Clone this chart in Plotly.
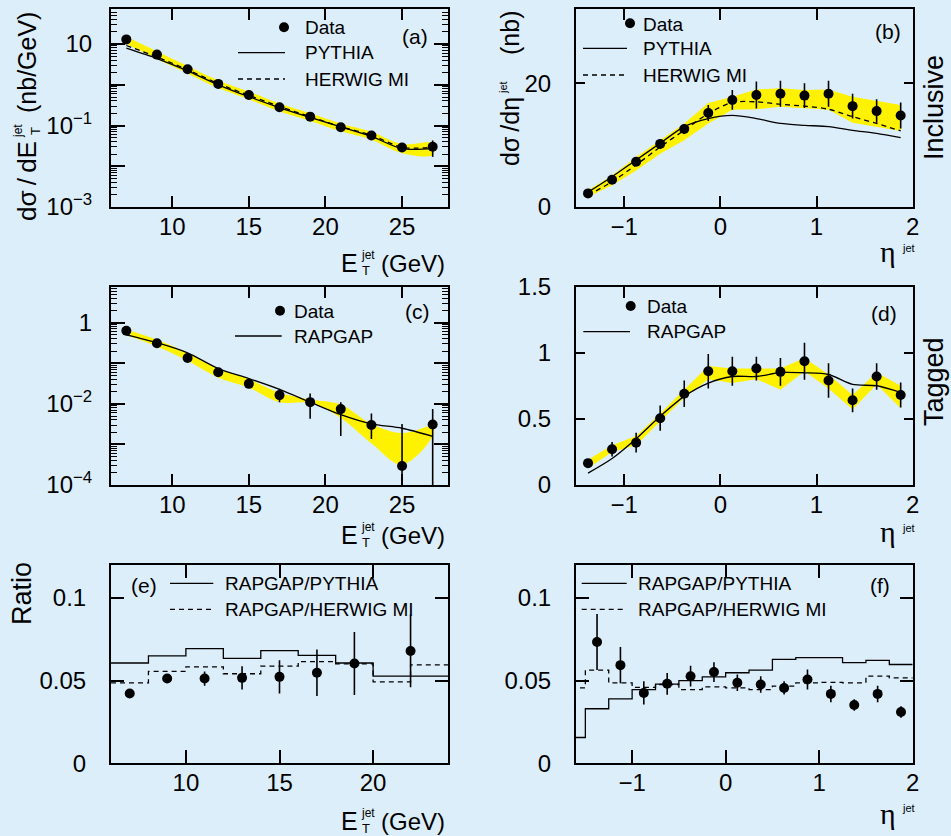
import plotly.graph_objects as go

W, H = 951, 836
FONT = "Liberation Sans"
SERIF = "Liberation Serif"
BG = "#DDEEFB"
YEL = "#FFF200"


def X(px):
    return px / W


def Y(py):
    return 1 - py / H


# ---------------- data ----------------
et_pts = [7, 9, 11, 13, 15, 17, 19, 21, 23, 25, 27]
# (a) inclusive dsigma/dET
a_data = [13.0, 5.5, 2.4, 1.05, 0.56, 0.28, 0.165, 0.091, 0.057, 0.029, 0.030]
a_err = [0.3, 0.15, 0.06, 0.03, 0.015, 0.01, 0.008, 0.005, 0.004, 0.003, 0.013]
a_pythia = [7.9, 4.4, 2.2, 1.0, 0.51, 0.276, 0.158, 0.093, 0.054, 0.027, 0.027]
a_herwig = [9.2, 4.8, 2.35, 1.07, 0.55, 0.295, 0.165, 0.094, 0.058, 0.029, 0.029]
a_band_hi = [15.0, 6.6, 2.9, 1.28, 0.68, 0.345, 0.20, 0.112, 0.070, 0.035, 0.036]
a_band_lo = [10.0, 4.3, 1.9, 0.83, 0.44, 0.22, 0.13, 0.072, 0.045, 0.021, 0.019]

eta_pts = [-1.375, -1.125, -0.875, -0.625, -0.375, -0.125, 0.125, 0.375,
           0.625, 0.875, 1.125, 1.375, 1.625, 1.875]
# (b) inclusive dsigma/deta
b_data = [2.2, 4.4, 7.3, 10.2, 12.6, 15.2, 17.3, 18.1, 18.3, 18.0, 18.3, 16.3, 15.5, 14.8]
b_err = [0.4, 0.5, 0.6, 0.7, 0.8, 1.3, 1.6, 2.2, 2.1, 2.0, 2.1, 2.0, 1.9, 2.1]
b_pythia = [2.4, 4.9, 7.6, 10.3, 13.0, 14.3, 14.8, 14.3, 13.5, 13.2, 13.0, 12.4, 11.9, 11.2]
b_herwig = [1.9, 4.1, 6.8, 9.7, 12.4, 15.1, 16.9, 17.0, 16.6, 16.3, 15.8, 14.6, 13.5, 12.3]
b_band_hi = [2.7, 5.1, 8.1, 10.8, 13.5, 16.8, 17.8, 19.0, 19.2, 18.9, 19.0, 17.8, 17.2, 16.5]
b_band_lo = [1.6, 3.5, 5.9, 8.6, 10.8, 13.5, 15.7, 15.8, 16.2, 15.9, 15.7, 13.6, 13.0, 12.3]

# (c) tagged dsigma/dET
c_data = [0.63, 0.31, 0.135, 0.060, 0.031, 0.0164, 0.011, 0.0074, 0.0030, 0.000295, 0.0031]
c_err_up = [0.03, 0.015, 0.008, 0.004, 0.003, 0.007, 0.007, 0.0036, 0.00275, 0.0029, 0.0044]
c_err_dn = [0.03, 0.015, 0.008, 0.004, 0.003, 0.0054, 0.0067, 0.0058, 0.00165, 0.000294, 0.00309]
c_rapgap = [0.50, 0.32, 0.18, 0.074, 0.042, 0.0227, 0.011, 0.0054, 0.0032, 0.0025, 0.00158]
c_band_hi = [0.68, 0.38, 0.18, 0.074, 0.040, 0.0187, 0.0128, 0.0096, 0.0032, 0.0019, 0.0027]
c_band_lo = [0.49, 0.26, 0.115, 0.044, 0.025, 0.011, 0.0105, 0.0045, 0.00107, 0.00032, 0.0016]

# (d) tagged dsigma/deta
d_data = [0.165, 0.27, 0.32, 0.505, 0.69, 0.86, 0.86, 0.88, 0.855, 0.935, 0.79, 0.64, 0.82, 0.68]
d_err = [0.02, 0.055, 0.075, 0.095, 0.10, 0.13, 0.11, 0.09, 0.105, 0.14, 0.13, 0.09, 0.10, 0.095]
d_rapgap = [0.09, 0.20, 0.35, 0.52, 0.67, 0.77, 0.82, 0.82, 0.85, 0.848, 0.835, 0.76, 0.75, 0.70]
d_band_hi = [0.19, 0.30, 0.37, 0.54, 0.72, 0.90, 0.88, 0.88, 0.88, 0.96, 0.835, 0.68, 0.85, 0.75]
d_band_lo = [0.127, 0.25, 0.30, 0.48, 0.66, 0.80, 0.77, 0.80, 0.72, 0.86, 0.73, 0.57, 0.76, 0.58]

# (e) ratio vs ET
e_pts = [7, 9, 11, 13, 15, 17, 19, 22]
e_data = [0.0422, 0.0513, 0.0513, 0.0517, 0.0523, 0.0548, 0.0604, 0.068]
e_err = [0.002, 0.002, 0.0043, 0.007, 0.010, 0.014, 0.019, 0.022]
e_edges = [6, 8, 10, 12, 14, 16, 18, 20, 22, 24]
e_r_pythia = [0.0607, 0.065, 0.0694, 0.0635, 0.0682, 0.0653, 0.0607, 0.0527, 0.0527]
e_r_herwig = [0.0487, 0.0556, 0.0584, 0.0542, 0.0588, 0.0615, 0.0602, 0.0493, 0.0596]

# (f) ratio vs eta
f_data = [0.0734, 0.0594, 0.0426, 0.0481, 0.0527, 0.0552, 0.0487, 0.0477,
          0.0456, 0.0507, 0.042, 0.0353, 0.042, 0.031]
f_err = [0.017, 0.011, 0.007, 0.0066, 0.0063, 0.006, 0.005, 0.005,
         0.004, 0.006, 0.005, 0.0035, 0.005, 0.0035]
f_edges = [-1.75, -1.5, -1.25, -1.0, -0.75, -0.5, -0.25, 0.0, 0.25, 0.5,
           0.75, 1.0, 1.25, 1.5, 1.75, 2.0]
f_r_pythia = [0.0156, 0.033, 0.039, 0.0446, 0.0479, 0.050, 0.0523, 0.0548,
              0.0564, 0.0629, 0.0639, 0.0639, 0.0609, 0.0623, 0.0598]
f_r_herwig = [0.0456, 0.0564, 0.0487, 0.046, 0.0477, 0.0446, 0.0462, 0.0456,
              0.0446, 0.0467, 0.0487, 0.049, 0.0487, 0.0527, 0.0517]

# ---------------- figure ----------------
fig = go.Figure()


def band(xs, hi, lo, ax, shape="linear"):
    fig.add_trace(go.Scatter(
        x=list(xs) + list(xs)[::-1], y=list(hi) + list(lo)[::-1],
        fill="toself", fillcolor=YEL, mode="lines", line=dict(width=0, shape=shape),
        xaxis="x" + ax, yaxis="y" + ax, showlegend=False, hoverinfo="skip"))


def line(xs, ys, ax, dash="solid", shape="spline"):
    fig.add_trace(go.Scatter(
        x=xs, y=ys, mode="lines",
        line=dict(color="black", width=1.3, dash=dash, shape=shape, smoothing=0.8),
        xaxis="x" + ax, yaxis="y" + ax, showlegend=False))


def steps(edges, vals, ax, dash="solid"):
    fig.add_trace(go.Scatter(
        x=edges, y=list(vals) + [vals[-1]], mode="lines",
        line=dict(color="black", width=1.3, dash=dash, shape="hv"),
        xaxis="x" + ax, yaxis="y" + ax, showlegend=False))


def points(xs, ys, up, dn, ax):
    fig.add_trace(go.Scatter(
        x=xs, y=ys, mode="markers",
        marker=dict(color="black", size=10, line=dict(width=0)),
        error_y=dict(type="data", symmetric=False, array=up, arrayminus=dn,
                     width=0, thickness=1.6, color="black"),
        xaxis="x" + ax, yaxis="y" + ax, showlegend=False))


DASH = "5px,4px"
# (a)
band(et_pts, a_band_hi, a_band_lo, "", "spline")
line(et_pts, a_pythia, "")
line(et_pts, a_herwig, "", DASH)
points(et_pts, a_data, a_err, a_err, "")
# (b)
band(eta_pts, b_band_hi, b_band_lo, "2")
line(eta_pts, b_pythia, "2")
line(eta_pts, b_herwig, "2", DASH)
points(eta_pts, b_data, b_err, b_err, "2")
# (c)
band(et_pts, c_band_hi, c_band_lo, "3", "spline")
line(et_pts, c_rapgap, "3")
points(et_pts, c_data, c_err_up, c_err_dn, "3")
# (d)
band(eta_pts, d_band_hi, d_band_lo, "4")
line(eta_pts, d_rapgap, "4")
points(eta_pts, d_data, d_err, d_err, "4")
# (e)
steps(e_edges, e_r_pythia, "5")
steps(e_edges, e_r_herwig, "5", DASH)
points(e_pts, e_data, e_err, e_err, "5")
# (f)
steps(f_edges, f_r_pythia, "6")
steps(f_edges, f_r_herwig, "6", DASH)
points(eta_pts, f_data, f_err, f_err, "6")

# ---------------- axes ----------------
colL = [X(111), X(448)]
colR = [X(576), X(912.7)]
row1 = [Y(207), Y(9)]
row2 = [Y(485), Y(286.5)]
row3 = [Y(763.3), Y(565)]

tickfont = dict(family=FONT, size=24, color="black")
XSTAND = -3


def axis(domain, anchor, rng, tickvals, ticktext=None, ticklen=11, log=False,
         minor_vals=None, standoff=XSTAND):
    d = dict(domain=domain, anchor=anchor, range=rng, tickmode="array",
             tickvals=tickvals, ticks="inside", ticklen=ticklen, tickwidth=1.5,
             tickcolor="black", showline=True, linecolor="black", linewidth=2,
             mirror="allticks", showgrid=False, zeroline=False, tickfont=tickfont,
             ticklabelstandoff=standoff, fixedrange=True, automargin=False)
    if ticktext is not None:
        d["ticktext"] = ticktext
    if log:
        d["type"] = "log"
    if minor_vals is not None:
        d["minor"] = dict(tickvals=minor_vals, ticks="inside", ticklen=6,
                          tickwidth=1.2, tickcolor="black", showgrid=False)
    return d


def log_minors(lo, hi):
    out = []
    for e in range(lo, hi):
        for m in range(2, 10):
            out.append(m * 10.0 ** e)
    return out


et_ticks = [10, 15, 20, 25]
eta_ticks = [-1, 0, 1, 2]

layout = dict(
    width=W, height=H, margin=dict(l=0, r=0, t=0, b=0, pad=0, autoexpand=False),
    paper_bgcolor=BG, plot_bgcolor=BG, showlegend=False,
    xaxis=axis(colL, "y", [6, 28], et_ticks),
    yaxis=axis(row1, "x", [-3, 1.86],
               [0.001, 0.01, 0.1, 1, 10],
               ["10<sup>\u22123</sup>", "", "10<sup>\u22121</sup>", "", "10"],
               ticklen=14, log=True, minor_vals=log_minors(-3, 2), standoff=12),
    xaxis2=axis(colR, "y2", [-1.5, 2], eta_ticks),
    yaxis2=axis(row1, "x2", [0, 32], [0, 20], ticklen=9, standoff=18),
    xaxis3=axis(colL, "y3", [6, 28], et_ticks),
    yaxis3=axis(row2, "x3", [-4, 0.89],
                [1e-4, 1e-3, 1e-2, 0.1, 1],
                ["10<sup>\u22124</sup>", "", "10<sup>\u22122</sup>", "", "1"],
                ticklen=14, log=True, minor_vals=log_minors(-4, 1), standoff=12),
    xaxis4=axis(colR, "y4", [-1.5, 2], eta_ticks),
    yaxis4=axis(row2, "x4", [0, 1.5], [0, 0.5, 1, 1.5], ticklen=9, standoff=18),
    xaxis5=axis(colL, "y5", [6, 24], [10, 15, 20], ticklen=13),
    yaxis5=axis(row3, "x5", [0, 0.12], [0, 0.05, 0.1], ticklen=13, standoff=18),
    xaxis6=axis(colR, "y6", [-1.6, 2], eta_ticks, ticklen=13),
    yaxis6=axis(row3, "x6", [0, 0.12], [0, 0.05, 0.1], ticklen=13, standoff=18),
)

# ---------------- legends / labels ----------------
shapes = []
ann = []


def txt(s, x, y, size=19, xanchor="left", yanchor="middle", angle=0, family=FONT):
    ann.append(dict(text=s, x=X(x), y=Y(y), xref="paper", yref="paper",
                    xanchor=xanchor, yanchor=yanchor, showarrow=False,
                    textangle=angle, borderpad=0,
                    font=dict(family=family, size=size, color="black")))


def seg(x0, x1, y, dash="solid"):
    shapes.append(dict(type="line", xref="paper", yref="paper", x0=X(x0), x1=X(x1),
                       y0=Y(y), y1=Y(y), line=dict(color="black", width=1.3, dash=dash)))


def dot(x, y):
    shapes.append(dict(type="circle", xref="paper", yref="paper", xsizemode="pixel",
                       ysizemode="pixel", xanchor=X(x), yanchor=Y(y), x0=-5, x1=5,
                       y0=-5, y1=5, fillcolor="black", line=dict(width=0)))


# (a)
dot(284, 27.3); txt("Data", 304, 27)
seg(238, 285, 52.7); txt("PYTHIA", 304, 52.5)
seg(238, 285, 79, DASH); txt("HERWIG MI", 304, 79)
txt("(a)", 415, 36, 21, "center")
# (b)
dot(630, 23.3); txt("Data", 641.7, 24)
seg(583, 627, 48.3); txt("PYTHIA", 641.7, 48.5)
seg(583, 627, 75, DASH); txt("HERWIG MI", 641.7, 75)
txt("(b)", 888, 32, 21, "center")
# (c)
dot(280, 310.7); txt("Data", 293.3, 311)
seg(235, 281.7, 336); txt("RAPGAP", 293.3, 336)
txt("(c)", 417.5, 312, 21, "center")
# (d)
dot(630.7, 306); txt("Data", 645.7, 306)
seg(583.3, 630, 331.7); txt("RAPGAP", 645.7, 331.7)
txt("(d)", 883.5, 313, 21, "center")
# (e)
txt("(e)", 144, 585, 21, "center")
seg(170, 213.3, 583.3); txt("RAPGAP/PYTHIA", 224, 583.5)
seg(170, 213.3, 609.3, DASH); txt("RAPGAP/HERWIG MI", 224, 609.5)
# (f)
seg(581.7, 626.7, 583.3); txt("RAPGAP/PYTHIA", 636.7, 583.5)
seg(581.7, 626.7, 609.3, DASH); txt("RAPGAP/HERWIG MI", 636.7, 609.5)
txt("(f)", 880, 585, 21, "center")


# axis titles: E_T^jet (GeV)
def et_title(yc):
    txt("E", 358.5, yc, 25, "right")
    txt("jet", 360, yc - 8, 12)
    txt("T", 360.5, yc + 7, 13)
    txt("(GeV)", 446, yc, 24, "right")


et_title(263)
et_title(535)
et_title(821)


def eta_title(yc, yj):
    txt("\u03b7", 897, yc - 5, 30, "right", family=SERIF)
    txt("jet", 901, yj, 11)


eta_title(256, 248)
eta_title(536.7, 528)
eta_title(818, 808)

# y titles (rotated pieces, positioned by centre)
# (a)
txt("d\u03c3\u2009/\u2009dE", 27, 181, 26, "center", "middle", -90)
txt("jet", 18, 131, 12, "center", "middle", -90)
txt("T", 35, 131, 13, "center", "middle", -90)
txt("(nb/GeV)", 27, 63, 25, "center", "middle", -90)
# (b)
txt("d\u03c3\u2009/d\u03b7", 510, 132, 25, "center", "middle", -90)
txt("jet", 503, 88, 11, "center", "middle", -90)
txt("(nb)", 510, 33, 25, "center", "middle", -90)
# (e)
txt("Ratio", 22, 594, 27, "center", "middle", -90)
# right labels
txt("Inclusive", 934, 108, 27, "center", "middle", -90)
txt("Tagged", 934, 382, 27, "center", "middle", -90)

layout["shapes"] = shapes
layout["annotations"] = ann
fig.update_layout(**layout)
fig.write_html("out.html")
